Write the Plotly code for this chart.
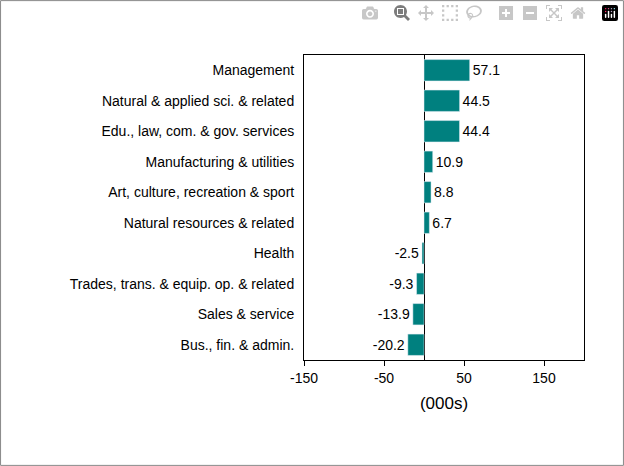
import plotly.graph_objects as go

categories = ["Management", "Natural & applied sci. & related", "Edu., law, com. & gov. services",
              "Manufacturing & utilities", "Art, culture, recreation & sport", "Natural resources & related",
              "Health", "Trades, trans. & equip. op. & related", "Sales & service", "Bus., fin. & admin."]
values = [57.1, 44.5, 44.4, 10.9, 8.8, 6.7, -2.5, -9.3, -13.9, -20.2]
tick_vals = [-150, -50, 50, 150]
tick_text = ["-150", "-50", "50", "150"]

fig = go.Figure(go.Bar(
    x=values, y=categories, orientation="h",
    marker=dict(color="#00807F"), width=0.7,
    text=[f"{v:.1f}" for v in values], textposition="outside",
    textfont=dict(size=14, color="black"), cliponaxis=False,
))

fig.update_layout(
    width=624, height=466, plot_bgcolor="white", paper_bgcolor="white",
    margin=dict(l=304, r=40, t=55, b=106),
    font=dict(family="Liberation Sans, Arial", size=14, color="black"),
    showlegend=False,
    shapes=[dict(type="rect", xref="paper", yref="paper",
                 x0=-304/280 + 0.002, x1=1 + 40/280 - 0.002, y0=-106/305 + 0.002, y1=1 + 55/305 - 0.002,
                 line=dict(color="#888888", width=1))],
)
fig.update_xaxes(range=[-150, 200], tickvals=tick_vals, ticktext=tick_text, showgrid=False, zeroline=True,
                 zerolinecolor="black", zerolinewidth=1, showline=True, linecolor="black",
                 mirror=True, ticks="outside", ticklen=5, tickcolor="black",
                 title=dict(text="(000s)", standoff=12))
fig.update_yaxes(autorange="reversed", showgrid=False, showline=True, linecolor="black",
                 mirror=True, ticks="", ticklabelstandoff=6)

fig.write_html("out.html", post_script="document.body.style.margin='0';")
